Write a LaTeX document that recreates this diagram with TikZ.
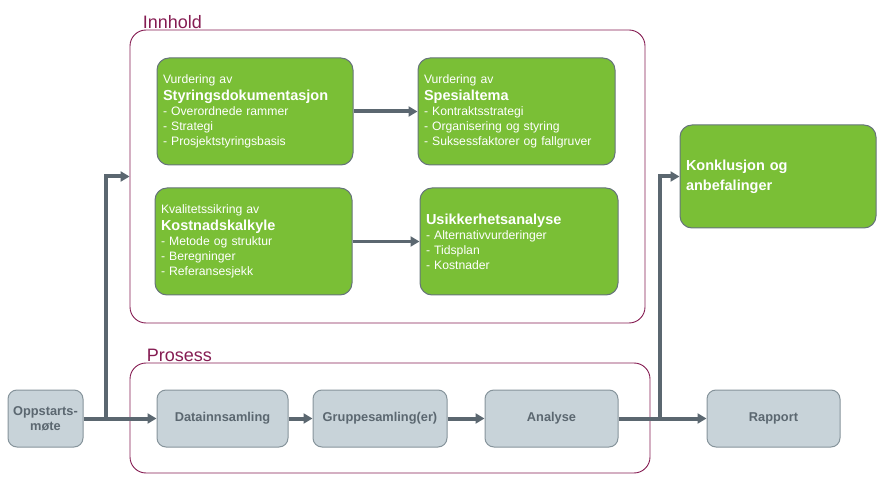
\documentclass[tikz,border=0pt]{standalone}
\usepackage{fontspec}
\setmainfont{Liberation Sans}
\usepackage{tikz}
\usetikzlibrary{arrows.meta, positioning}

\newcommand{\boxtitle}{\fontsize{14.5}{20}\selectfont\bfseries}

\begin{document}
\begin{tikzpicture}[x=1pt, y=-1pt, >={Triangle[length=9pt, width=10pt]},
    every node/.style={align=center},
    greenbox/.style={draw=boxline, fill=boxgreen, rounded corners=12pt, line width=1pt,
      text=white, align=left, text width=#1-12pt, inner sep=6pt, minimum width=#1, minimum height=107pt,
      font=\fontsize{12.2}{15}\selectfont},
    greybox/.style={draw=greyline, fill=greyfill, rounded corners=9pt, line width=1pt,
      text=conn, minimum width=#1, minimum height=57pt, font=\fontsize{12.8}{15}\selectfont\bfseries},
    frame/.style={draw=framecol, rounded corners=16pt, line width=0.9pt},
    framelabel/.style={text=framecol, font=\fontsize{18}{20}\selectfont, anchor=south west, inner sep=1pt},
    conn/.style={draw=conn, line width=4pt, ->}]
      \definecolor{boxgreen}{HTML}{7ABF36}
      \definecolor{boxline}{HTML}{66747A}
      \definecolor{greyfill}{HTML}{C8D3D9} \definecolor{greyline}{HTML}{86949B}
      \definecolor{conn}{HTML}{5B6770} \definecolor{framecol}{HTML}{851C52}
      \useasboundingbox (0,0) rectangle (879,481);

      % frames
      \node[frame, minimum width=515pt, minimum height=293pt] (innhold) at (387.5,176.5) {};
      \node[framelabel] (innholdlabel) at ([xshift=12pt]innhold.north west) {Innhold};
      \node[frame, minimum width=520pt, minimum height=110pt] (prosess) at (390,418) {};
      \node[framelabel] (prosesslabel) at ([xshift=16pt]prosess.north west) {Prosess};

      % innhold
      \node[greenbox=196pt] (styring) at (255,111.5) {Vurdering av\\[2pt]{\boxtitle Styringsdokumentasjon}\\- Overordnede rammer\\- Strategi\\- Prosjektstyringsbasis};
      \node[greenbox=197pt] (spesial) at (516.5,111.5) {Vurdering av\\[2pt]{\boxtitle Spesialtema}\\- Kontraktsstrategi\\- Organisering og styring\\- Suksessfaktorer og fallgruver};
      \node[greenbox=197pt] (kostnad) at (253.5,241.5) {Kvalitetssikring av\\[2pt]{\boxtitle Kostnadskalkyle}\\- Metode og struktur\\- Beregninger\\- Referansesjekk};
      \node[greenbox=198pt] (usikker) at (519,241.5) {{\boxtitle Usikkerhetsanalyse}\\- Alternativvurderinger\\- Tidsplan\\- Kostnader};
      \node[greenbox=196pt, minimum height=103pt, font=\boxtitle] (konkl) at (778,176.5) {Konklusjon og\\anbefalinger\\[4pt]};

      % prosess
      \node[greybox=75pt] (oppstart) at (45.5,418.5) {Oppstarts-\\møte};
      \node[greybox=131pt] (data) at (222.5,418.5) {Datainnsamling};
      \node[greybox=134pt] (gruppe) at (380,418.5) {Gruppesamling(er)};
      \node[greybox=133pt] (analyse) at (551.5,418.5) {Analyse};
      \node[greybox=133pt] (rapport) at (773.5,418.5) {Rapport};

      % connectors
      \draw[conn] (styring) -- (spesial);
      \draw[conn, line width=3pt] (kostnad) -- (usikker);
      \coordinate (splitL) at (106,418.5);
      \coordinate (splitR) at (660,418.5);
      \draw[conn] (oppstart) -- (data);
      \draw[conn] ([yshift=2pt]splitL) |- (innhold.west);
      \draw[conn] (data) -- (gruppe);
      \draw[conn] (gruppe) -- (analyse);
      \draw[conn] (analyse) -- (rapport);
      \draw[conn] ([yshift=2pt]splitR) |- (konkl.west);
    \end{tikzpicture}
\end{document}
